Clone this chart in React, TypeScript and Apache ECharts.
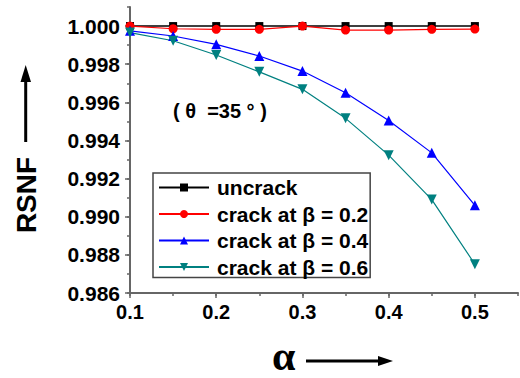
import React, { useEffect, useRef } from 'react';
import * as echarts from 'echarts';

const alphaValues = [0.1, 0.15, 0.2, 0.25, 0.3, 0.35, 0.4, 0.45, 0.5];
const uncrack = [1.0, 1.0, 1.0, 1.0, 1.0, 1.0, 1.0, 1.0, 1.0];
const crackB02 = [1.0, 0.99986, 0.99983, 0.99983, 1.0, 0.99979, 0.99979, 0.99983, 0.99984];
const crackB04 = [0.99975, 0.99948, 0.99904, 0.99843, 0.99764, 0.9965, 0.99505, 0.99335, 0.9906];
const crackB06 = [0.99966, 0.99923, 0.99848, 0.9976, 0.99668, 0.99516, 0.99323, 0.9909, 0.98751];
const seriesNames = ['uncrack', 'crack at β = 0.2', 'crack at β = 0.4', 'crack at β = 0.6'];
const seriesColors = ['#000000', '#ff0000', '#0000ff', '#008080'];
const yAxisName = 'RSNF';
const xAxisName = 'α';
const annotation = '( θ  =35 ° )';

const FONT = 'Liberation Sans, Arial, sans-serif';

function pairs(ys: number[]) {
  return alphaValues.map((x, i) => [x, ys[i]]);
}

export default function App() {
  const ref = useRef<HTMLDivElement>(null);
  useEffect(() => {
    document.body.style.margin = '0';
    if (!ref.current) return;
    const chart = echarts.init(ref.current, null, { renderer: 'svg' });
    const axisLineStyle = { color: '#666666', width: 2 };
    const option: any = {
      animation: false,
      grid: { left: 130, top: 7, right: 2, bottom: 85, containLabel: false },
      xAxis: [
        {
          type: 'value', min: 0.1, max: 0.55, interval: 0.1,
          axisLine: { show: true, onZero: false, lineStyle: axisLineStyle },
          axisTick: { show: true, inside: false, length: 5, lineStyle: { color: '#666666', width: 1.5 } },
          axisLabel: {
            show: true, showMaxLabel: false, margin: 9,
            formatter: (v: number) => v.toFixed(1),
            fontFamily: FONT, fontWeight: 'bold', fontSize: 20, color: '#000',
          },
          splitLine: { show: false },
        },
        {
          type: 'value', min: 0.1, max: 0.55, interval: 0.05, position: 'bottom',
          axisLine: { show: false, onZero: false },
          axisTick: { show: true, inside: false, length: 3, lineStyle: { color: '#666666', width: 1.5 } },
          axisLabel: { show: false },
          splitLine: { show: false },
        },
      ],
      yAxis: [
        {
          type: 'value', min: 0.986, max: 1.001, interval: 0.002,
          axisLine: { show: true, onZero: false, lineStyle: axisLineStyle },
          axisTick: { show: true, inside: false, length: 5, lineStyle: { color: '#666666', width: 1.5 } },
          axisLabel: {
            show: true, showMaxLabel: false, margin: 10,
            formatter: (v: number) => v.toFixed(3),
            fontFamily: FONT, fontWeight: 'bold', fontSize: 21, color: '#000',
          },
          splitLine: { show: false },
        },
        {
          type: 'value', min: 0.986, max: 1.001, interval: 0.001, position: 'left',
          axisLine: { show: false, onZero: false },
          axisTick: { show: true, inside: false, length: 3, lineStyle: { color: '#666666', width: 1.5 } },
          axisLabel: { show: false },
          splitLine: { show: false },
        },
      ],
      legend: {
        show: true,
        orient: 'vertical',
        left: 153,
        top: 173,
        padding: [4, 2, 0, 5],
        itemGap: 5.5,
        itemWidth: 50,
        itemHeight: 10,
        borderColor: '#444444',
        borderWidth: 1.5,
        backgroundColor: '#ffffff',
        textStyle: {
          fontFamily: FONT, fontWeight: 'bold', fontSize: 21, color: '#000',
          padding: [0, 0, 0, 3],
        },
        data: seriesNames,
      },
      series: [
        {
          name: seriesNames[0], type: 'line', data: pairs(uncrack),
          symbol: 'rect', symbolSize: 8, color: seriesColors[0],
          lineStyle: { width: 1.5, color: seriesColors[0] }, clip: false,
        },
        {
          name: seriesNames[1], type: 'line', data: pairs(crackB02),
          symbol: 'circle', symbolSize: 9, color: seriesColors[1],
          lineStyle: { width: 1.2, color: seriesColors[1] }, clip: false,
        },
        {
          name: seriesNames[2], type: 'line', data: pairs(crackB04),
          symbol: 'triangle', symbolSize: 10, color: seriesColors[2],
          lineStyle: { width: 1.2, color: seriesColors[2] }, clip: false,
        },
        {
          name: seriesNames[3], type: 'line', data: pairs(crackB06),
          symbol: 'triangle', symbolRotate: 180, symbolSize: 10, color: seriesColors[3],
          lineStyle: { width: 1.2, color: seriesColors[3] }, clip: false,
        },
      ],
      graphic: [
        {
          type: 'text', x: 26, y: 195, rotation: Math.PI / 2,
          style: {
            text: yAxisName, fontFamily: FONT, fontWeight: 'bold', fontSize: 28,
            fill: '#000', align: 'center', verticalAlign: 'middle',
          },
        },
        {
          type: 'line',
          shape: { x1: 25.7, y1: 142, x2: 25.7, y2: 78 },
          style: { stroke: '#000', lineWidth: 3 },
        },
        {
          type: 'polygon',
          shape: { points: [[20.5, 82], [31, 82], [25.7, 65]] },
          style: { fill: '#000' },
        },
        {
          type: 'text', x: 272, y: 356,
          style: {
            text: xAxisName, fontFamily: 'Liberation Serif, Times New Roman, serif',
            fontWeight: 'bold', fontSize: 42,
            fill: '#000', align: 'left', verticalAlign: 'middle',
          },
        },
        {
          type: 'line',
          shape: { x1: 306, y1: 361, x2: 382, y2: 361 },
          style: { stroke: '#000', lineWidth: 3 },
        },
        {
          type: 'polygon',
          shape: { points: [[378, 356], [378, 366], [393, 361]] },
          style: { fill: '#000' },
        },
        {
          type: 'text', x: 173, y: 111,
          style: {
            text: annotation, fontFamily: FONT,
            fontWeight: 'bold', fontSize: 20, fill: '#000',
            align: 'left', verticalAlign: 'middle',
          },
        },
      ],
    };
    chart.setOption(option);
    return () => chart.dispose();
  }, []);
  return <div ref={ref} style={{ width: 520, height: 378 }} />;
}
